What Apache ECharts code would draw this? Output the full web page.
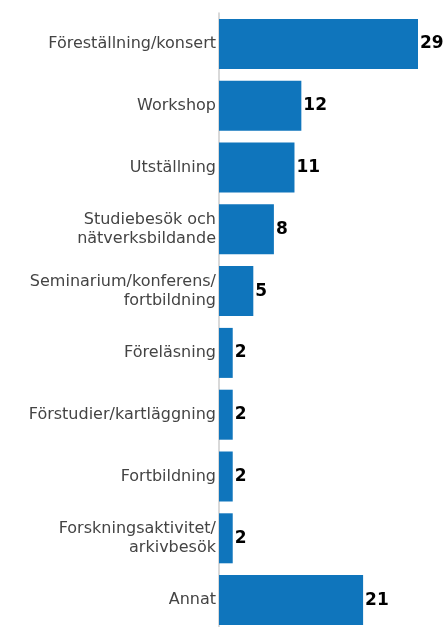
<!DOCTYPE html>
<html>
<head>
<meta charset="utf-8">
<script src="https://cdn.jsdelivr.net/npm/echarts@6/dist/echarts.min.js"></script>
<style>
  html, body { margin: 0; padding: 0; background: #fff; overflow: hidden; }
  /* lite högre än fönstret så att sista stapeln hamnar rätt */
  #chart { width: 446px; height: 632px; }
</style>
</head>
<body>
<div id="chart"></div>
<script>
// kategorier, uppifrån och ner
var categories = [
  'Föreställning/konsert',
  'Workshop',
  'Utställning',
  'Studiebesök och\nnätverksbildande',
  'Seminarium/konferens/\nfortbildning',
  'Föreläsning',
  'Förstudier/kartläggning',
  'Fortbildning',
  'Forskningsaktivitet/\narkivbesök',
  'Annat'
];
var counts = [29, 12, 11, 8, 5, 2, 2, 2, 2, 21];

var chart = echarts.init(document.getElementById('chart'));
var option = {
  animation: false,
  grid: { left: 219, right: 28, top: 13, bottom: 1, containLabel: false },
  xAxis: {
    type: 'value',
    min: 0,
    max: 29,
    show: false
  },
  yAxis: {
    type: 'category',
    inverse: true,
    data: categories,
    axisLine: { show: true, lineStyle: { color: '#cccccc', width: 1.5 } },
    axisTick: { show: false },
    axisLabel: {
      margin: 3,
      fontFamily: 'DejaVu Sans',
      fontSize: 16,
      color: '#444444',
      lineHeight: 19,
      align: 'right'
    }
  },
  series: [
    {
      type: 'bar',
      data: counts,
      barWidth: 50,
      itemStyle: { color: '#0f75bc' },
      label: {
        show: true,
        position: 'right',
        distance: 2,
        fontFamily: 'DejaVu Sans',
        fontWeight: 'bold',
        fontSize: 17,
        color: '#000'
      }
    }
  ]
};
chart.setOption(option);
window.onresize = chart.resize;
</script>
</body>
</html>
